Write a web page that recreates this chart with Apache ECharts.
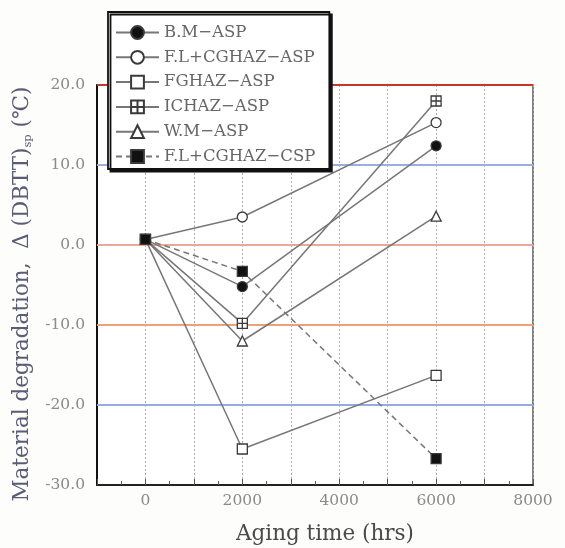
<!DOCTYPE html>
<html>
<head>
<meta charset="utf-8">
<script src="https://cdn.jsdelivr.net/npm/echarts@6/dist/echarts.min.js"></script>
<style>
  html, body { margin: 0; padding: 0; background: #fdfdfb; }
  #chart { width: 565px; height: 548px; }
</style>
</head>
<body>
<div id="chart"></div>
<script>
// Aging time (hrs)
const hours = [0, 2000, 6000];

// Δ(DBTT)sp in ℃ for each zone / specimen type
const bmASP      = [0.7, -5.2, 12.4];
const flCghazASP = [0.7, 3.5, 15.3];
const fghazASP   = [0.7, -25.5, -16.3];
const ichazASP   = [0.7, -9.8, 18.0];
const wmASP      = [0.7, -12.0, 3.6];
const flCghazCSP = [0.7, -3.3, -26.7];

const seriesNames = [
  'B.M\u2212ASP',
  'F.L+CGHAZ\u2212ASP',
  'FGHAZ\u2212ASP',
  'ICHAZ\u2212ASP',
  'W.M\u2212ASP',
  'F.L+CGHAZ\u2212CSP'
];

const xTickLabels = [0, 2000, 4000, 6000, 8000];
const yTickLabels = ['-30.0', '-20.0', '-10.0', '0.0', '10.0', '20.0'];

// horizontal reference lines and their tints
const gridLevels = [20, 10, 0, -10, -20];
const gridTints  = ['#c0392b', '#9cade0', '#eaa898', '#eda07a', '#98abe0'];

const serif = 'DejaVu Serif';
const lineGray = '#777777';
const markEdge = '#3a3a3a';

// square with a cross inside
const boxPlus = 'path://M0,0H10V10H0Z M5,0V10 M0,5H10';

function pairs(ys) {
  return hours.map((h, i) => [h, ys[i]]);
}

function lineSeries(name, ys, symbol, fill, dashed) {
  return {
    name: name,
    type: 'line',
    data: pairs(ys),
    symbol: symbol,
    symbolSize: 10,
    showAllSymbol: true,
    z: 3,
    lineStyle: { color: lineGray, width: 1.5, type: dashed ? [6, 4] : 'solid' },
    itemStyle: { color: fill, borderColor: markEdge, borderWidth: 1.3 },
    emphasis: { disabled: true },
    animation: false
  };
}

const series = [
  lineSeries(seriesNames[0], bmASP, 'circle', '#111111', false),
  lineSeries(seriesNames[1], flCghazASP, 'circle', '#ffffff', false),
  lineSeries(seriesNames[2], fghazASP, 'rect', '#ffffff', false),
  lineSeries(seriesNames[3], ichazASP, boxPlus, '#ffffff', false),
  lineSeries(seriesNames[4], wmASP, 'triangle', '#ffffff', false),
  lineSeries(seriesNames[5], flCghazCSP, 'rect', '#111111', true)
];

series[0].markLine = {
  silent: true,
  z: 1,
  symbol: ['none', 'none'],
  label: { show: false },
  animation: false,
  data: gridLevels.map((v, i) => ({
    yAxis: v,
    lineStyle: { color: gridTints[i], width: 2, type: 'solid' }
  }))
};

const chart = echarts.init(document.getElementById('chart'));
chart.setOption({
  backgroundColor: '#fdfdfb',
  animation: false,
  grid: {
    left: 97, right: 32, top: 85, bottom: 63,
    containLabel: false,
    outerBoundsMode: 'none',
    show: true, borderColor: '#555', borderWidth: 1.5, backgroundColor: '#ffffff'
  },
  legend: {
    orient: 'vertical',
    left: 108, top: 12,
    padding: [12, 14, 4, 7],
    itemWidth: 43, itemHeight: 16, itemGap: 7.8,
    backgroundColor: '#ffffff',
    borderColor: '#111', borderWidth: 1.8,
    shadowColor: '#111', shadowBlur: 0, shadowOffsetX: 2.5, shadowOffsetY: 2.5,
    textStyle: { fontFamily: serif, fontSize: 16.5, lineHeight: 16, color: '#666666' },
    data: seriesNames
  },
  xAxis: {
    type: 'value',
    min: -1000, max: 8000, interval: 1000,
    name: 'Aging time (hrs)',
    nameLocation: 'middle',
    nameGap: 38,
    nameTextStyle: { fontFamily: serif, fontSize: 21.5, color: '#4a4a4a', padding: [0, 0, 0, 20] },
    axisLine: { show: true, onZero: false, lineStyle: { color: '#222', width: 2 } },
    axisTick: { show: true, inside: true, length: 6, lineStyle: { color: '#555' } },
    minorTick: { show: true, splitNumber: 2, length: 4, lineStyle: { color: '#555' } },
    axisLabel: {
      fontFamily: serif, fontSize: 15.5, color: '#8a8a8a', margin: 8,
      formatter: v => (xTickLabels.indexOf(v) >= 0 ? String(v) : '')
    },
    splitLine: { show: true, lineStyle: { color: '#adadad', width: 1, type: [2, 2] } }
  },
  yAxis: {
    type: 'value',
    min: -30, max: 20, interval: 10,
    name: 'Material degradation,  \u0394 (DBTT){sub|sp} (\u2103)',
    nameLocation: 'middle',
    nameRotate: 90,
    nameGap: 45,
    nameTextStyle: {
      fontFamily: serif, fontSize: 21.5, color: '#5a5c78',
      padding: [0, 18, 0, 0],
      rich: { sub: { fontFamily: serif, fontSize: 11.5, color: '#5a5c78', padding: [12, 0, 0, 0] } }
    },
    axisLine: { show: true, onZero: false, lineStyle: { color: '#111', width: 2 } },
    axisTick: { show: false },
    axisLabel: {
      fontFamily: serif, fontSize: 15.5, color: '#8a8a8a', margin: 12,
      formatter: v => yTickLabels[Math.round((v + 30) / 10)]
    },
    splitLine: { show: false }
  },
  series: series
});
</script>
</body>
</html>
